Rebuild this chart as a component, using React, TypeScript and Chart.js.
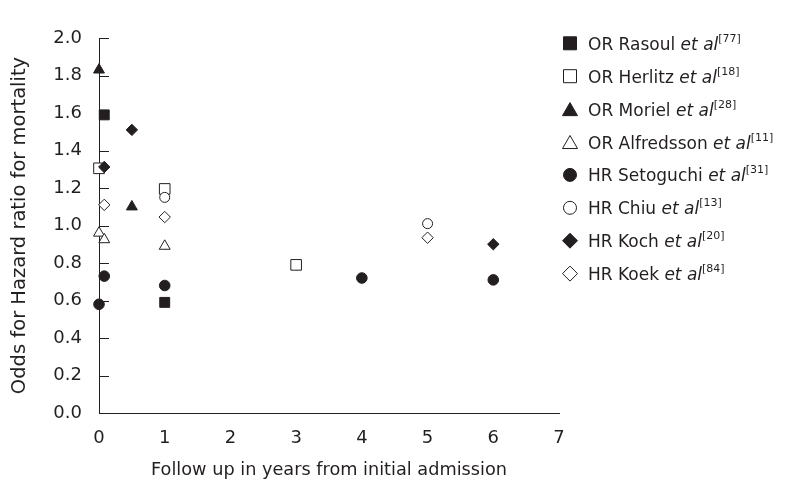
import React, { useEffect, useRef } from 'react';
import { Chart, registerables } from 'chart.js';

Chart.register(...registerables);

// ---- Data ----
const seriesNames = ['OR Rasoul', 'OR Herlitz', 'OR Moriel', 'OR Alfredsson', 'HR Setoguchi', 'HR Chiu', 'HR Koch', 'HR Koek'];
const seriesRefs = ['77', '18', '28', '11', '31', '13', '20', '84'];

const rasoulX = [0.08, 1];
const rasoulY = [1.59, 0.59];
const herlitzX = [0, 1, 3];
const herlitzY = [1.305, 1.195, 0.79];
const morielX = [0, 0.5];
const morielY = [1.83, 1.1];
const alfredssonX = [0, 0.08, 1];
const alfredssonY = [0.96, 0.925, 0.89];
const setoguchiX = [0, 0.08, 1, 4, 6];
const setoguchiY = [0.58, 0.73, 0.68, 0.72, 0.71];
const chiuX = [1, 5];
const chiuY = [1.15, 1.01];
const kochX = [0.08, 0.5, 6];
const kochY = [1.312, 1.51, 0.9];
const koekX = [0.08, 1, 5];
const koekY = [1.11, 1.045, 0.935];

const xTicks = [0, 1, 2, 3, 4, 5, 6, 7];
const yTicks = [0, 0.2, 0.4, 0.6, 0.8, 1.0, 1.2, 1.4, 1.6, 1.8, 2.0];

const xTitle = 'Follow up in years from initial admission';
const yTitle = 'Odds for Hazard ratio for mortality';

// ---- Styles ----
const INK = '#231f20';
const FONT = 'DejaVu Sans';

type Style = { shape: 'rect' | 'triangle' | 'circle' | 'rectRot'; filled: boolean; r: number };
const styles: Style[] = [
  { shape: 'rect', filled: true, r: 7 },
  { shape: 'rect', filled: false, r: 7.5 },
  { shape: 'triangle', filled: true, r: 6.3 },
  { shape: 'triangle', filled: false, r: 6.3 },
  { shape: 'circle', filled: true, r: 5.3 },
  { shape: 'circle', filled: false, r: 5 },
  { shape: 'rectRot', filled: true, r: 5.7 },
  { shape: 'rectRot', filled: false, r: 5.7 },
];

const seriesX = [rasoulX, herlitzX, morielX, alfredssonX, setoguchiX, chiuX, kochX, koekX];
const seriesY = [rasoulY, herlitzY, morielY, alfredssonY, setoguchiY, chiuY, kochY, koekY];

function drawMarker(ctx: CanvasRenderingContext2D, st: Style, x: number, y: number, s: number) {
  ctx.beginPath();
  if (st.shape === 'rect') {
    ctx.rect(x - s / 2, y - s / 2, s, s);
  } else if (st.shape === 'circle') {
    ctx.arc(x, y, s / 2, 0, Math.PI * 2);
  } else if (st.shape === 'triangle') {
    const h = s * 0.87;
    ctx.moveTo(x, y - h / 2);
    ctx.lineTo(x + s / 2, y + h / 2);
    ctx.lineTo(x - s / 2, y + h / 2);
    ctx.closePath();
  } else {
    ctx.moveTo(x, y - s / 2);
    ctx.lineTo(x + s / 2, y);
    ctx.lineTo(x, y + s / 2);
    ctx.lineTo(x - s / 2, y);
    ctx.closePath();
  }
  ctx.fillStyle = st.filled ? INK : '#ffffff';
  ctx.fill();
  ctx.lineWidth = 1;
  ctx.strokeStyle = INK;
  ctx.stroke();
}

const legendPlugin = {
  id: 'customLegend',
  afterDraw(chart: any) {
    const ctx: CanvasRenderingContext2D = chart.ctx;
    const area = chart.chartArea;
    const yScale = chart.scales.y;
    ctx.save();
    // inward y ticks
    ctx.strokeStyle = INK;
    ctx.lineWidth = 1;
    yTicks.forEach((t) => {
      const py = Math.round(yScale.getPixelForValue(t)) + 0.5;
      ctx.beginPath();
      ctx.moveTo(area.left, py);
      ctx.lineTo(area.left + 10, py);
      ctx.stroke();
    });
    // legend
    const mx = 570;
    const tx = 588;
    const y0 = 43.3;
    const dy = 32.9;
    const markerSizes = [13, 13, 15, 15, 13, 13, 15, 15];
    seriesNames.forEach((name, i) => {
      const cy = y0 + i * dy;
      drawMarker(ctx, styles[i], mx, cy, markerSizes[i]);
      ctx.fillStyle = INK;
      ctx.textBaseline = 'alphabetic';
      ctx.textAlign = 'left';
      const base = cy + 6.5;
      let x = tx;
      ctx.font = `17px "${FONT}"`;
      const t1 = name + ' ';
      ctx.fillText(t1, x, base);
      x += ctx.measureText(t1).width;
      ctx.font = `italic 17px "${FONT}"`;
      ctx.fillText('et al', x, base);
      x += ctx.measureText('et al').width;
      ctx.font = `11px "${FONT}"`;
      ctx.fillText('[' + seriesRefs[i] + ']', x, base - 8);
    });
    ctx.restore();
  },
};

export default function App() {
  const ref = useRef<HTMLCanvasElement | null>(null);
  useEffect(() => {
    if (!ref.current) return;
    const datasets = seriesNames.map((name, i) => {
      const st = styles[i];
      return {
        label: name,
        data: seriesX[i].map((x, j) => ({ x, y: seriesY[i][j] })),
        order: -i,
        pointStyle: st.shape,
        pointRadius: st.r,
        pointHoverRadius: st.r,
        pointBackgroundColor: st.filled ? INK : '#ffffff',
        pointBorderColor: INK,
        pointBorderWidth: 1,
        showLine: false,
        clip: false as any,
      };
    });
    const chart = new Chart(ref.current, {
      type: 'scatter',
      data: { datasets },
      options: {
        animation: false,
        responsive: false,
        maintainAspectRatio: false,
        events: [],
        layout: { padding: { left: 0, right: 228, top: 38, bottom: 0 } },
        plugins: { legend: { display: false }, tooltip: { enabled: false } },
        scales: {
          x: {
            type: 'linear',
            min: 0,
            max: 7,
            afterBuildTicks: (s: any) => {
              s.ticks = xTicks.map((v) => ({ value: v }));
            },
            ticks: { color: INK, font: { family: FONT, size: 18 }, padding: 15, callback: (v: any) => String(v) },
            grid: { display: false, drawTicks: false },
            border: { display: true, color: INK, width: 1 },
            title: { display: true, text: xTitle, color: INK, font: { family: FONT, size: 17.7 }, padding: { top: 0, bottom: 8 } },
            afterFit: (s: any) => {
              s.height = 76;
            },
          },
          y: {
            type: 'linear',
            min: 0,
            max: 2,
            afterBuildTicks: (s: any) => {
              s.ticks = yTicks.map((v) => ({ value: v }));
            },
            ticks: { color: INK, font: { family: FONT, size: 18 }, padding: 17, callback: (v: any) => Number(v).toFixed(1) },
            grid: { display: false, drawTicks: false },
            border: { display: true, color: INK, width: 1 },
            title: { display: true, text: yTitle, color: INK, font: { family: FONT, size: 19.5 }, padding: { top: 8, bottom: 0 } },
            afterFit: (s: any) => {
              s.width = 99;
            },
          },
        },
      },
      plugins: [legendPlugin],
    });
    return () => chart.destroy();
  }, []);
  return (
    <div style={{ position: 'absolute', left: 0, top: 0, width: 787, height: 489, background: '#ffffff' }}>
      <canvas ref={ref} width={787} height={489} style={{ width: 787, height: 489, display: 'block' }} />
    </div>
  );
}
